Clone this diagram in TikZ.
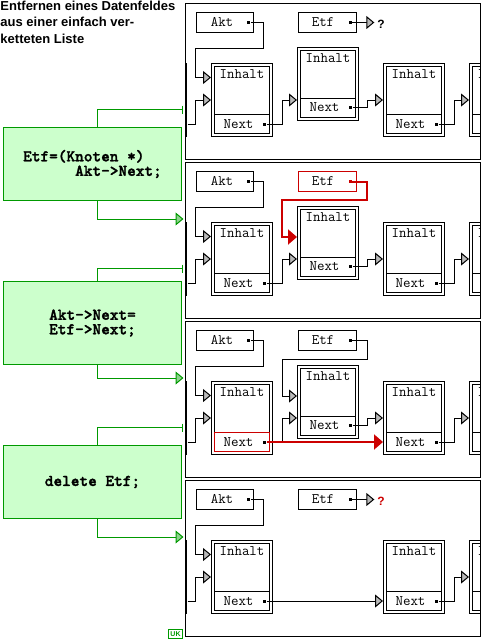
\documentclass[tikz,border=0pt]{standalone}
\usepackage{fontspec}
\newfontfamily\headfont{Liberation Sans}
\newfontfamily\codefont{lmmonolt10-bold}[Extension=.otf, FakeBold=1.6]
\usetikzlibrary{arrows.meta,positioning}
\definecolor{stepgreen}{RGB}{0,153,0}
\definecolor{stepfill}{RGB}{204,255,204}
\definecolor{hotred}{RGB}{204,0,0}

\begin{document}
\begin{tikzpicture}[x=1pt,y=-1pt,line width=1pt,
    panelbox/.style={rectangle, draw, minimum width=295pt, minimum height=156pt, inner sep=0pt},
    runbar/.style={rectangle, fill, minimum width=2pt, minimum height=74pt, inner sep=0pt},
    ptrbox/.style={rectangle, draw, minimum width=57pt, minimum height=20pt, inner sep=0pt, font=\ttfamily\fontsize{14.5}{16}\selectfont},
    ptrdot/.style={rectangle, fill, minimum size=3pt, inner sep=0pt},
    elembox/.style={rectangle, draw, double, double distance=2pt, minimum width=58pt, minimum height=70pt, inner sep=0pt, outer sep=2pt},
    nextfield/.style={rectangle, draw, minimum width=55pt, minimum height=19pt, inner sep=0pt, outer sep=0pt, anchor=south, font=\ttfamily\fontsize{14.5}{16}\selectfont},
    fieldtext/.style={inner sep=0pt, font=\ttfamily\fontsize{14.5}{16}\selectfont},
    stepbox/.style={rectangle, draw=stepgreen, fill=stepfill, minimum width=178pt, align=left, font=\codefont\fontsize{16.5}{14.5}\selectfont},
    qmark/.style={inner xsep=2.5pt, inner ysep=0pt, font=\headfont\bfseries\fontsize{12}{12}\selectfont},
    listarrow/.style={-{Triangle[length=8pt,width=13pt,fill=gray!55]}},
    redarrow/.style={draw=hotred, line width=2pt, -{Triangle[length=9pt,width=15pt]}},
    steparrow/.style={draw=stepgreen, -{Triangle[length=8pt,width=13pt,fill=stepgreen!45]}},
    stepmark/.style={draw=stepgreen, -{Bar[width=8pt]}},
]
    \useasboundingbox (0,0) rectangle (482,640);

    %Title and statements
    \node[anchor=north west, inner sep=0pt, align=left, font=\headfont\bfseries\fontsize{13}{16.5}\selectfont] (title) at (0,0.5) {Entfernen eines Datenfeldes\\aus einer einfach ver-\\ketteten Liste};
    \node[stepbox, minimum height=73pt] (stmt1) at (92.5,164) {Etf=(Knoten *)\\\phantom{Etf=(K}Akt->Next;};
    \node[stepbox, minimum height=83pt] (stmt2) at (92.5,323) {Akt->Next=\\Etf->Next;};
    \node[stepbox, minimum height=73pt] (stmt3) at (92.5,482) {delete Etf;};
    \node[draw=stepgreen, text=stepgreen, minimum width=14pt, minimum height=9pt, inner sep=0pt, font=\headfont\bfseries\fontsize{7}{7}\selectfont] (uk) at (175.5,634) {UK};

    %Panels
    \foreach \i/\etfcol/\nextcol in {1/black/black,2/hotred/black,3/black/hotred,4/black/black} {
      \begin{scope}[shift={(0,159*\i-159)}]
        \begin{scope}
          \clip (185.5,3.5) rectangle (480.5,159.5);
          \node[elembox] (elemD\i) at (500,100) {};
          \node[nextfield] (nextD\i) at ([yshift=3.5pt]elemD\i.south) {};
          \node[fieldtext, below=6.5pt of elemD\i.north] (inhD\i) {Inhalt};
        \end{scope}
        \node[panelbox] (panel\i) at (333,81.5) {};
        \node[runbar] (bar\i) at (186,100) {};
        \node[ptrbox] (akt\i) at (225,22.5) {Akt\hspace*{6pt}};
        \node[ptrdot] (aktp\i) at ([xshift=-5.5pt]akt\i.east) {};
        \node[ptrbox, draw=\etfcol, minimum width=58pt] (etf\i) at (327.5,22.5) {Etf\hspace*{9pt}};
        \node[ptrdot, fill=\etfcol] (etfp\i) at ([xshift=-7pt]etf\i.east) {};
        \node[elembox] (elemA\i) at (242,100) {};
        \node[nextfield, draw=\nextcol] (nextA\i) at ([yshift=3.5pt]elemA\i.south) {Next\hspace*{7pt}};
        \node[fieldtext, below=6.5pt of elemA\i.north] (inhA\i) {Inhalt};
        \node[ptrdot] (dotA\i) at ([xshift=-5pt]nextA\i.east) {};
        \node[elembox] (elemC\i) at (414,100) {};
        \node[nextfield] (nextC\i) at ([yshift=3.5pt]elemC\i.south) {Next\hspace*{7pt}};
        \node[fieldtext, below=6.5pt of elemC\i.north] (inhC\i) {Inhalt};
        \node[ptrdot] (dotC\i) at ([xshift=-5pt]nextC\i.east) {};
      \end{scope}
    }
    \foreach \i in {1,2,3} {
      \begin{scope}[shift={(0,159*\i-159)}]
        \node[elembox] (elemB\i) at (328,83.5) {};
        \node[nextfield] (nextB\i) at ([yshift=3.5pt]elemB\i.south) {Next\hspace*{7pt}};
        \node[fieldtext, below=6.5pt of elemB\i.north] (inhB\i) {Inhalt};
        \node[ptrdot] (dotB\i) at ([xshift=-5pt]nextB\i.east) {};
      \end{scope}
    }

    %Lines
    \foreach \i in {1,...,4} {
      \draw[listarrow] (aktp\i) -| ++(15,26) -| ++(-68,29) -- ([yshift=22.5pt]elemA\i.west);
      \draw[listarrow] (nextA\i -| bar\i.east) -| ([xshift=-15.5pt]elemA\i.west) -- (elemA\i.west);
      \draw[listarrow] (dotC\i) -| ([xshift=-15pt]elemD\i.west) -- (elemD\i.west);
    }
    \foreach \i in {1,2,3} {
      \draw[listarrow] (dotA\i) -| ([xshift=-15pt]elemB\i.west |- elemA\i.center) -- (elemB\i.west |- elemA\i.center);
      \draw[listarrow] (dotB\i) -| ([xshift=-16pt]elemC\i.west) -- (elemC\i.west);
    }
    \node[qmark] (qm1) at (381,24) {?};
    \draw[listarrow] (etfp1) -- (etfp1 -| qm1.west);
    \draw[redarrow] (etfp2) -| ++(17,18.5) -| ++(-85,37) -- ([yshift=5.5pt]elemB2.west);
    \draw[listarrow] (etfp3) -| ++(17,18.5) -| ++(-85,37) -- ([yshift=5.5pt]elemB3.west);
    \draw[redarrow] (dotA3) -- (dotA3 -| elemC3.west);
    \draw[listarrow] (dotA4) -- (dotA4 -| elemC4.west);
    \node[qmark, text=hotred] (qm4) at (381,501) {?};
    \draw[listarrow] (etfp4) -- (etfp4 -| qm4.west);

    %Steps
    \draw[stepmark] ([xshift=5pt]stmt1.north) |- ([xshift=-2pt,yshift=-9.5pt]bar1.west);
    \draw[steparrow] ([xshift=5pt]stmt1.south) |- ([xshift=-1pt,yshift=2.5pt]bar2.north west);
    \draw[stepmark] ([xshift=5pt]stmt2.north) |- ([xshift=-2pt,yshift=-9.5pt]bar2.west);
    \draw[steparrow] ([xshift=5pt]stmt2.south) |- ([xshift=-1pt,yshift=2.5pt]bar3.north west);
    \draw[stepmark] ([xshift=5pt]stmt3.north) |- ([xshift=-2pt,yshift=-9.5pt]bar3.west);
    \draw[steparrow] ([xshift=5pt]stmt3.south) |- ([xshift=-1pt,yshift=2.5pt]bar4.north west);
\end{tikzpicture}
\end{document}
